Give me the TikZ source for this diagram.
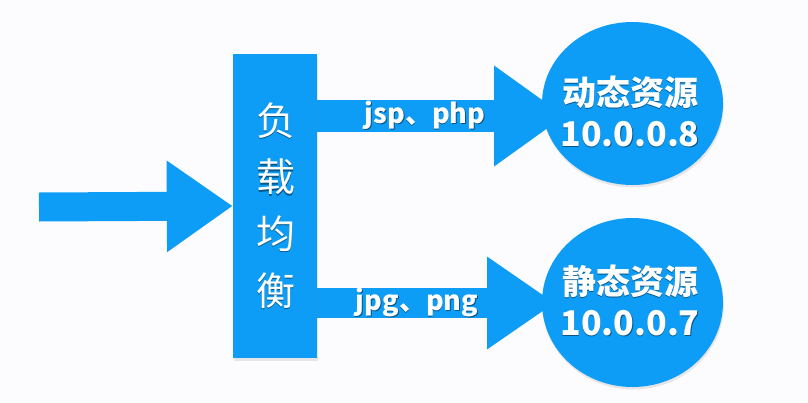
\documentclass[tikz,border=0pt]{standalone}
\usepackage{fontspec}
\setmainfont{Noto Sans CJK SC}
\usetikzlibrary{arrows.meta,shapes.geometric,shadows,backgrounds}
\definecolor{lbblue}{RGB}{13,157,246}
\definecolor{paper}{RGB}{252,251,253}
\newcommand{\shtxt}[1]{\makebox[0pt][l]{\raisebox{-1.2pt}{\hspace{0.6pt}\color{lbblue!55!black}#1}}#1}
\tikzset{every node/.style={inner sep=0pt, text=white},
  soft/.style={drop shadow={opacity=0.18, shadow xshift=0.8pt, shadow yshift=-2.5pt}},
  balancer/.style={rectangle, fill=lbblue, soft, minimum width=84pt, minimum height=304pt},
  server/.style={ellipse, fill=lbblue, soft, minimum width=181pt},
  lbtext/.style={align=center, font=\fontsize{39}{56.7}\selectfont},
  srvtext/.style={align=center, font=\bfseries\fontsize{34}{41}\selectfont},
  flow/.style={draw=lbblue, line width=30pt, -{Triangle[length=68pt,width=88pt]}},
  tag/.style={font=\bfseries\fontsize{27}{27}\selectfont}}

\begin{document}
\begin{tikzpicture}[x=1pt, y=-1pt]
   \useasboundingbox (0,0) rectangle (808,402);
   \node[balancer] (lb)  at (275.0,206.0) {};
   \node[lbtext]   (lb-t) at (275.5,206.0) {\shtxt{负}\\\shtxt{载}\\\shtxt{均}\\\shtxt{衡}};
   \node[server, minimum height=163pt] (dyn) at (632.5,103.5) {};
   \node[server, minimum height=169pt] (sta) at (632.5,302.5) {};
   \node[srvtext] (dyn-t) at (630.0,112.0) {\shtxt{动态资源}\\\shtxt{10.0.0.8}};
   \node[srvtext] (sta-t) at (630.0,301.0) {\shtxt{静态资源}\\\shtxt{10.0.0.7}};
   \coordinate (src)    at ( 39,207);
   \coordinate (dyn-in) at (565,116);
   \coordinate (sta-in) at (555,303);
   \begin{scope}[on background layer]
    \fill[paper] (0,0) rectangle (808,402);
    \draw[flow, line width=29pt, -{Triangle[length=66pt,width=87pt]}] (src) -- (lb.west);
    \draw[flow, line width=32pt, -{Triangle[length=71pt,width=96pt]}] (dyn-in -| lb.east) -- node[tag, pos=0.436] (t-dyn) {\shtxt{jsp、php}} (dyn-in);
    \draw[flow] (sta-in -| lb.east) -- node[tag, pos=0.42] (t-sta) {\shtxt{jpg、png}} (sta-in);
   \end{scope}
\end{tikzpicture}
\end{document}
